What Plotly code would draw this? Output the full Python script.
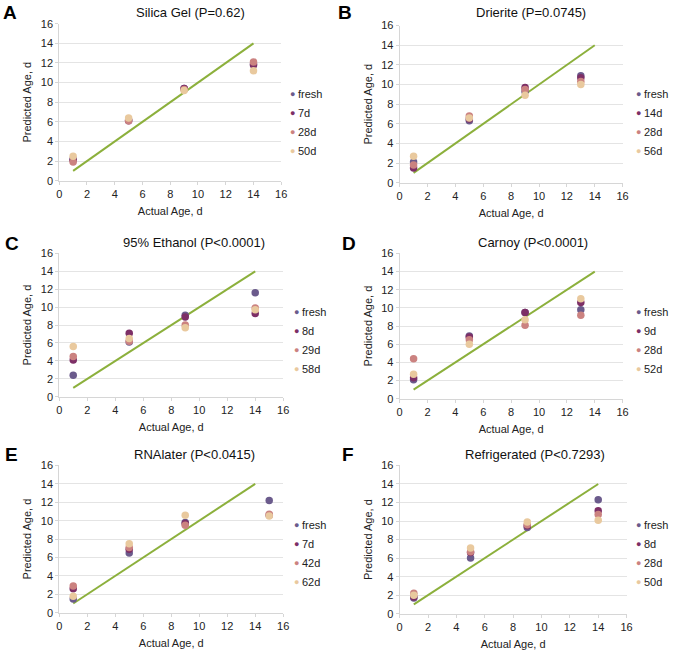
import plotly.graph_objects as go

W, H = 675, 658
FONT = "Liberation Sans, Arial, sans-serif"
COLORS = ["#6b5b8c", "#7d2f66", "#cb8280", "#e9c99e"]
LINE_COLOR = "#8cb03c"
GRID = "#e4e4e4"

# panel data ------------------------------------------------------------
titles = ["Silica Gel (P=0.62)", "Drierite (P=0.0745)", "95% Ethanol (P<0.0001)",
          "Carnoy (P<0.0001)", "RNAlater (P<0.0415)", "Refrigerated (P<0.7293)"]
letters = ["A", "B", "C", "D", "E", "F"]

series_names = [
    ["fresh", "7d", "28d", "50d"],
    ["fresh", "14d", "28d", "56d"],
    ["fresh", "8d", "29d", "58d"],
    ["fresh", "9d", "28d", "52d"],
    ["fresh", "7d", "42d", "62d"],
    ["fresh", "8d", "28d", "50d"],
]

actual_age = [
    [1, 5, 9, 14],
    [1, 5, 9, 13],
    [1, 5, 9, 14],
    [1, 5, 9, 13],
    [1, 5, 9, 15],
    [1, 5, 9, 14],
]

# predicted age per series (fresh, stored 1, stored 2, stored 3)
silica = [[2.2, 6.2, 9.4, 11.9], [2.1, 6.1, 9.4, 11.8], [1.9, 6.1, 9.3, 12.1], [2.5, 6.4, 9.2, 11.2]]
drierite = [[2.1, 6.3, 9.3, 10.9], [1.5, 6.5, 9.7, 10.7], [1.8, 6.8, 9.5, 10.3], [2.7, 6.6, 8.9, 10.0]]
ethanol = [[2.4, 6.1, 9.1, 11.6], [4.1, 7.1, 8.9, 9.3], [4.5, 6.2, 8.0, 9.9], [5.6, 6.5, 7.7, 9.7]]
carnoy = [[2.1, 6.9, 9.5, 9.8], [2.3, 6.8, 9.5, 10.6], [4.4, 6.5, 8.1, 9.2], [2.7, 6.0, 8.7, 11.0]]
rnalater = [[1.5, 6.5, 9.8, 12.2], [2.6, 6.9, 9.7, 10.6], [2.9, 7.1, 9.5, 10.7], [1.8, 7.5, 10.6, 10.5]]
fridge = [[1.7, 6.0, 9.3, 12.3], [1.8, 6.6, 9.5, 11.1], [2.2, 6.7, 9.6, 10.7], [2.0, 7.1, 9.9, 10.1]]
predicted = [silica, drierite, ethanol, carnoy, rnalater, fridge]

ref_line_x = [1, 14]
ref_line_y = [1, 14]
ticks = [0, 2, 4, 6, 8, 10, 12, 14, 16]

# layout in pixels: plot left, right, top, bottom; legend x, legend top y; title; letter
panels = [
    dict(x0=57, x1=282, y0=18, y1=178, lx=293, ly=90, tx=190, ty=7, kx=7, ky=7),
    dict(x0=402, x1=628, y0=20, y1=180, lx=644, ly=90, tx=535, ty=7, kx=347, ky=7),
    dict(x0=57, x1=284, y0=252, y1=398, lx=297, ly=312, tx=194, ty=241, kx=9, ky=242),
    dict(x0=402, x1=628, y0=252, y1=400, lx=644, ly=312, tx=537, ty=241, kx=351, ky=242),
    dict(x0=57, x1=284, y0=468, y1=618, lx=297, ly=529, tx=194, ty=457, kx=9, ky=457),
    dict(x0=402, x1=632, y0=468, y1=619, lx=644, ly=529, tx=539, ty=457, kx=350, ky=457),
]


def px(x):
    return x / W


def py(y):
    return 1 - y / H


fig = go.Figure()
annotations = []

for i, p in enumerate(panels):
    n = "" if i == 0 else str(i + 1)
    xa, ya = "x" + n, "y" + n

    fig.add_trace(go.Scatter(x=ref_line_x, y=ref_line_y, mode="lines",
                             line=dict(color=LINE_COLOR, width=2),
                             xaxis=xa, yaxis=ya, showlegend=False, hoverinfo="skip"))
    for s in range(4):
        fig.add_trace(go.Scatter(x=actual_age[i], y=predicted[i][s], mode="markers",
                                 name=series_names[i][s],
                                 marker=dict(color=COLORS[s], size=7.5),
                                 xaxis=xa, yaxis=ya, showlegend=False))

    axis_common = dict(range=[0, 16], tickvals=ticks, showline=True, linecolor="#d6d6d6",
                       ticks="outside", ticklen=3, tickcolor="#d6d6d6",
                       tickfont=dict(family=FONT, size=11, color="#222"),
                       zeroline=False, fixedrange=True)
    fig.update_layout({
        "xaxis" + n: dict(axis_common, domain=[px(p["x0"]), px(p["x1"])],
                          anchor=ya, showgrid=False,
                          title=dict(text="Actual Age, d", standoff=8,
                                     font=dict(family=FONT, size=11, color="#222"))),
        "yaxis" + n: dict(axis_common, domain=[py(p["y1"]), py(p["y0"])],
                          anchor=xa, showgrid=True, gridcolor=GRID,
                          title=dict(text="Predicted Age, d", standoff=6,
                                     font=dict(family=FONT, size=11, color="#222"))),
    })

    annotations.append(dict(text=titles[i], x=px(p["tx"]), y=py(p["ty"]), xref="paper",
                            yref="paper", showarrow=False, xanchor="center", yanchor="middle",
                            font=dict(family=FONT, size=13, color="#111")))
    annotations.append(dict(text="<b>" + letters[i] + "</b>", x=px(p["kx"]), y=py(p["ky"]),
                            xref="paper", yref="paper", showarrow=False, xanchor="center",
                            yanchor="middle", font=dict(family=FONT, size=19, color="#000")))
    # legend as marker + label
    for s in range(4):
        yy = py(p["ly"] + s * 19.3)
        annotations.append(dict(text="●", x=px(p["lx"]), y=yy, xref="paper", yref="paper",
                                showarrow=False, xanchor="center", yanchor="middle",
                                font=dict(family=FONT, size=9, color=COLORS[s])))
        annotations.append(dict(text=series_names[i][s], x=px(p["lx"] + 4), y=yy, xref="paper",
                                yref="paper", showarrow=False, xanchor="left", yanchor="middle",
                                font=dict(family=FONT, size=11, color="#222")))

fig.update_layout(width=W, height=H, margin=dict(l=0, r=0, t=0, b=0),
                  plot_bgcolor="white", paper_bgcolor="white",
                  annotations=annotations, showlegend=False,
                  font=dict(family=FONT))

fig.write_html("out.html", config={"displayModeBar": False},
               post_script="document.body.style.margin='0';")
